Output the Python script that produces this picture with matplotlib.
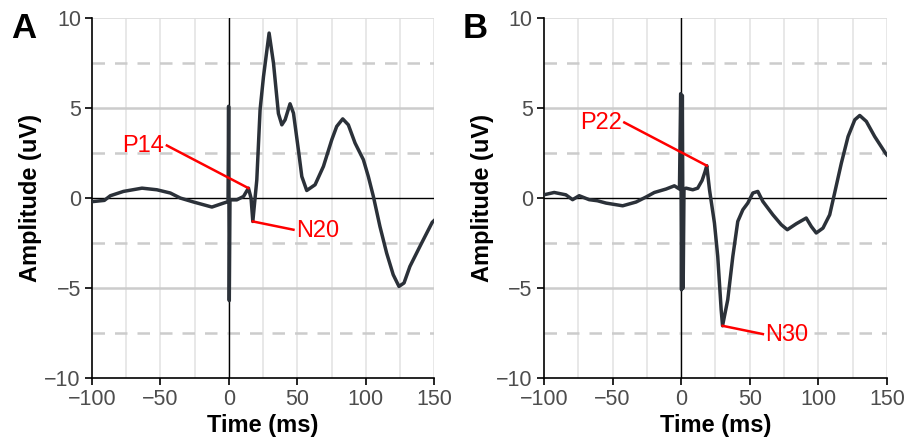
import matplotlib
matplotlib.use('Agg')
import matplotlib.pyplot as plt

plt.rcParams['font.family'] = ['Liberation Sans', 'DejaVu Sans']

# panel A trace (ms, uV)
time_a = [-100, -91, -86.6, -77, -63.5, -52.6, -42.8, -35.5, -25.8, -12.4, -3.9, -0.6,
          -0.2, 0.3, 0.8, 5.8, 10.7, 14.3, 16.2, 17.5, 20.4, 22.8, 25.3, 29.4, 32.6,
          36.2, 38.7, 41.1, 44.7, 47.2, 50.8, 53.3, 56.9, 63, 69.1, 75.2, 78.8, 83.2,
          87.3, 92.2, 98.3, 101.9, 105.6, 110.4, 115.3, 120.1, 124.3, 128, 132.3,
          139.6, 148.6, 150]
amp_a = [-0.2, -0.13, 0.13, 0.37, 0.55, 0.46, 0.28, 0.0, -0.22, -0.5, -0.28, -0.2,
         5.1, -5.7, -0.1, -0.1, 0.09, 0.55, 0.0, -1.3, 1.0, 4.9, 6.75, 9.17, 7.5,
         4.7, 4.07, 4.35, 5.24, 4.72, 2.68, 1.2, 0.42, 0.74, 1.76, 3.24, 3.98, 4.4,
         4.07, 3.06, 2.13, 1.2, 0.09, -1.58, -3.06, -4.26, -4.91, -4.72, -3.8,
         -2.69, -1.35, -1.25]

# panel B trace (ms, uV)
time_b = [-100, -92.5, -84, -79.1, -74.3, -67, -61, -54.7, -42.6, -32.8, -25.5, -19.5,
          -11, -4.9, -1.2, -0.3, 0.3, 0.9, 1.5, 2.1, 3.6, 8.5, 12.1, 15.3, 17.5, 18.7,
          20.7, 24.3, 26.7, 29.2, 30.2, 34, 37.7, 41.3, 45, 48.6, 52.3, 55.9, 59.6,
          66.9, 73, 77.4, 83.9, 91.2, 94.9, 98.5, 103.4, 108.3, 111.9, 116.8, 121.7,
          126.6, 130.2, 135, 141.1, 148.9, 150]
amp_b = [0.18, 0.31, 0.18, -0.09, 0.13, -0.09, -0.15, -0.28, -0.43, -0.22, 0.06, 0.31,
         0.5, 0.68, 0.5, 5.8, -5.1, 5.7, -5.0, 0.5, 0.55, 0.46, 0.55, 0.98, 1.48, 1.8,
         0.46, -1.39, -3.24, -6.2, -7.1, -5.65, -3.24, -1.3, -0.65, -0.28, 0.28, 0.37,
         -0.19, -0.93, -1.48, -1.76, -1.43, -1.11, -1.58, -1.94, -1.67, -0.93, 0.28,
         1.94, 3.42, 4.35, 4.59, 4.26, 3.42, 2.5, 2.4]

# annotations: label, peak (t, uV), far end of the leader line (t, uV)
labels_a = ['P14', 'N20']
peaks_a = [(14.3, 0.55), (17.5, -1.3)]
ends_a = [(-45.3, 2.92), (47.2, -1.76)]
labels_b = ['P22', 'N30']
peaks_b = [(18.7, 1.8), (30.2, -7.1)]
ends_b = [(-41.4, 4.2), (59.6, -7.56)]

panel_letters = ['A', 'B']
x_ticks = [-100, -50, 0, 50, 100, 150]
y_ticks = [-10, -5, 0, 5, 10]

fig = plt.figure(figsize=(9.05, 4.41), dpi=100)
ax_a = fig.add_axes([0.1017, 0.1429, 0.378, 0.816])
ax_b = fig.add_axes([0.601, 0.1429, 0.379, 0.816])

trace_col = '#2b3139'
red = '#ff0000'

for ax, t, a, labs, peaks, ends, letter in [
        (ax_a, time_a, amp_a, labels_a, peaks_a, ends_a, panel_letters[0]),
        (ax_b, time_b, amp_b, labels_b, peaks_b, ends_b, panel_letters[1])]:
    ax.set_xlim(-100, 150)
    ax.set_ylim(-10, 10)
    # grid
    for gx in range(-75, 151, 25):
        ax.axvline(gx, color='#e6e6e6', lw=1.3, zorder=0)
    ax.axhline(10, color='#dddddd', lw=1.3, zorder=0)
    for gy in [-5, 5]:
        ax.axhline(gy, color='#cccccc', lw=1.8, zorder=0)
    for gy in [-7.5, -2.5, 2.5, 7.5]:
        ax.axhline(gy, color='#cccccc', lw=1.8, ls=(0, (5, 4)), zorder=0)
    ax.axhline(0, color='black', lw=1.0, zorder=1)
    ax.axvline(0, color='black', lw=1.0, zorder=1)

    ax.plot(t, a, color=trace_col, lw=2.5, zorder=3, solid_joinstyle='round')

    for lab, (px, py), (ex, ey) in zip(labs, peaks, ends):
        ax.plot([px, ex], [py, ey], color=red, lw=1.8, zorder=4)
        if ex < px:
            ax.text(ex - 2, ey - 0.05, lab, color=red, fontsize=17,
                    ha='right', va='center', zorder=4)
        else:
            ax.text(ex + 2, ey - 0.05, lab, color=red, fontsize=17,
                    ha='left', va='center', zorder=4)

    ax.set_xticks(x_ticks)
    ax.set_yticks(y_ticks)
    ax.tick_params(direction='out', length=5, width=1.2, labelsize=15.5,
                   labelcolor='#4d4d4d', color='black', pad=3)
    for s in ['top', 'right']:
        ax.spines[s].set_visible(False)
    for s in ['left', 'bottom']:
        ax.spines[s].set_linewidth(1.2)
    ax.set_xlabel('Time (ms)', fontsize=17, fontweight='bold', labelpad=3)
    ax.set_ylabel('Amplitude (uV)', fontsize=17, fontweight='bold', labelpad=2)
    ax.text(-0.2, 0.97, letter, transform=ax.transAxes, fontsize=25,
            fontweight='bold', ha='center', va='center')

fig.savefig('out.png', dpi=100)
